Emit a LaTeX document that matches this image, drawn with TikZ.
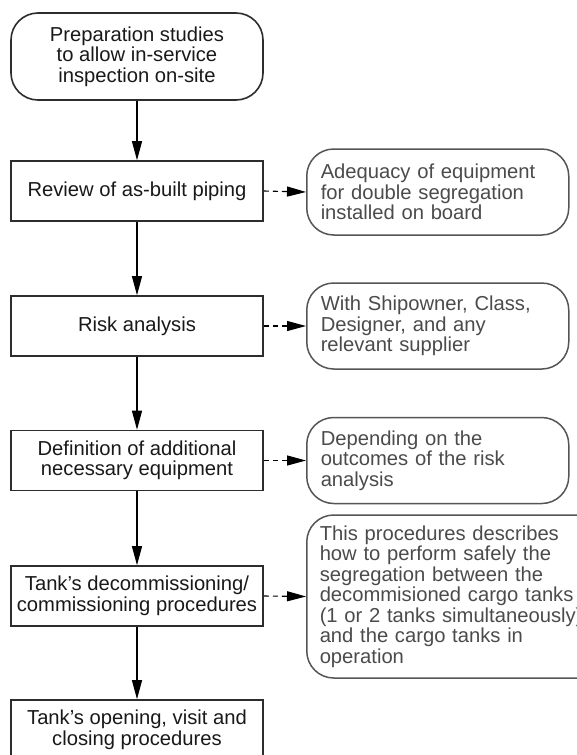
\documentclass[tikz,border=0pt]{standalone}
\usepackage{fontspec}
\setmainfont{Liberation Sans}
\usetikzlibrary{arrows.meta, positioning}
\definecolor{boxline}{RGB}{45,45,45}
\definecolor{noteline}{RGB}{85,85,85}
\definecolor{notetext}{RGB}{75,75,75}

\begin{document}
\begin{tikzpicture}[x=1pt,y=1pt,
    stepbox/.style={rectangle,draw=boxline,line width=1.6pt,minimum width=252pt,minimum height=60pt,inner sep=2pt,align=center,text=black!90,font=\fontsize{20.2}{20.5}\selectfont},
    notebox/.style={rectangle,draw=noteline,line width=1.5pt,rounded corners=27pt,anchor=west,text width=234pt,inner xsep=14pt,minimum height=86pt,align=left,text=notetext,font=\fontsize{20.2}{20.5}\selectfont},
    flow/.style={-{Triangle[length=19pt,width=10pt]},line width=1.1pt,black},
    link/.style={-{Triangle[length=19pt,width=10pt]},line width=1.1pt,black,dash pattern=on 5pt off 4pt}]
    \useasboundingbox[fill=white] (0,0) rectangle (577,-755);

    % Colonna principale
    \node[stepbox,rounded corners=27pt,minimum height=87pt] (start) at (137,-56.5) {Preparation studies\\to allow in-service\\inspection on-site};
    \node[stepbox] (review) at (137,-191) {Review of as-built piping};
    \node[stepbox] (risk) at (137,-326) {Risk analysis};
    \node[stepbox] (equip) at (137,-460.5) {Definition of additional\\necessary equipment};
    \node[stepbox] (decom) at (137,-596) {Tank’s decommissioning/\\commissioning procedures};
    \node[stepbox] (visit) at (137,-730) {Tank’s opening, visit and\\closing procedures};

    % Note a destra
    \node[notebox] (adequacy) at (306,-192) {Adequacy of equipment\\for double segregation\\installed on board};
    \node[notebox] (parties) at (306,-326) {With Shipowner, Class,\\Designer, and any\\relevant supplier};
    \node[notebox] (outcome) at (306,-460.5) {Depending on the\\outcomes of the risk\\analysis};
    \node[notebox,text width=275pt,inner xsep=13pt,minimum height=163pt] (segreg) at (306,-596.5) {This procedures describes\\how to perform safely the\\segregation between the\\decommisioned cargo tanks\\(1 or 2 tanks simultaneously)\\and the cargo tanks in\\operation};

    % Frecce
    \draw[flow] (start) -- (review);
    \draw[flow] (review) -- (risk);
    \draw[flow] (risk) -- (equip);
    \draw[flow] (equip) -- (decom);
    \draw[flow] (decom) -- (visit);
    \draw[link] (review.east) -- (adequacy.west);
    \draw[link] (risk.east) -- (parties.west);
    \draw[link] (equip.east) -- (outcome.west);
    \draw[link] (decom.east) -- (segreg.west);
\end{tikzpicture}
\end{document}
